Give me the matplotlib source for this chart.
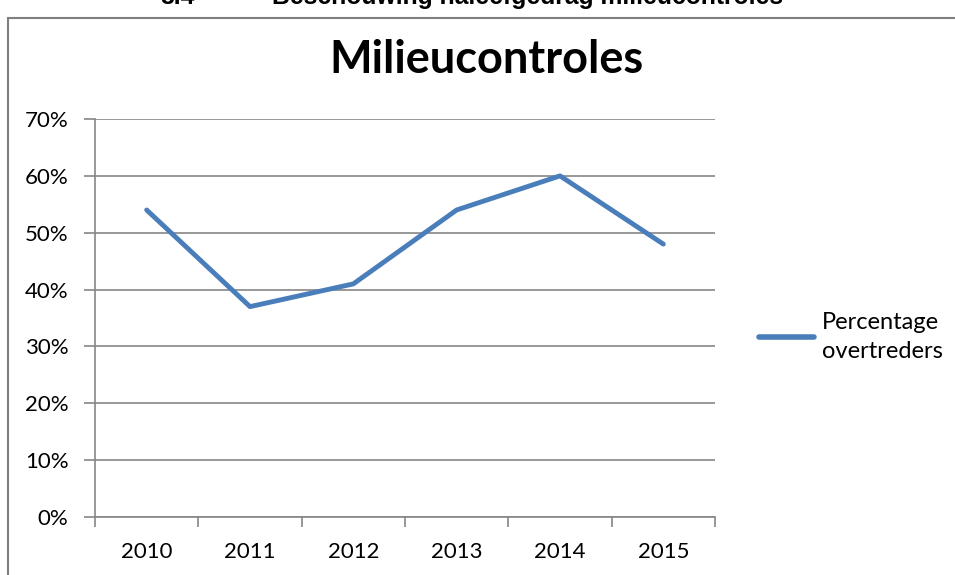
import numpy as np
import matplotlib.pyplot as plt
from matplotlib.patches import Rectangle
from matplotlib.lines import Line2D
from matplotlib.ticker import FixedLocator, PercentFormatter

years = ['2010', '2011', '2012', '2013', '2014', '2015']
overtreders = [54, 37, 41, 54, 60, 48]
series_name = 'Percentage\novertreders'
title = 'Milieucontroles'
header_num = '8.4'
header_text = 'Beschouwing naleefgedrag milieucontroles'

plt.rcParams['font.family'] = ['Lato', 'DejaVu Sans']
grid_col = '#868686'
line_col = '#4A7EBB'

fig = plt.figure(figsize=(9.55, 5.75), dpi=100)
fig.patch.set_facecolor('white')

# outer chart frame (runs off the right and bottom edge)
fig.patches.append(Rectangle((8 / 955, -0.1), 1.2, 0.1 + (575 - 18) / 575,
                             transform=fig.transFigure, fill=False,
                             edgecolor='#7f7f7f', linewidth=1.5))

# heading from the page above, cut off at the top as in the source
fig.text(160 / 955, 0.993, header_num, fontsize=17.8, fontweight='bold',
         va='baseline', ha='left', family=['Liberation Sans'])
fig.text(272 / 955, 0.993, header_text, fontsize=17.8, fontweight='bold',
         va='baseline', ha='left', family=['Liberation Sans'])

ax = fig.add_axes([95 / 955, 58 / 575, 620 / 955, 398 / 575])
x = np.arange(len(years))
ax.plot(x, overtreders, color=line_col, linewidth=3.5, solid_capstyle='round',
        solid_joinstyle='round', label=series_name, zorder=3)

ax.set_xlim(-0.5, len(years) - 0.5)
ax.set_ylim(0, 70)
ax.set_yticks(np.arange(0, 71, 10))
ax.yaxis.set_major_formatter(PercentFormatter(decimals=0))
ax.grid(axis='y', color=grid_col, linewidth=1.2)
ax.set_axisbelow(True)

ax.xaxis.set_major_locator(FixedLocator(np.arange(-0.5, len(years), 1.0)))
ax.xaxis.set_minor_locator(FixedLocator(x))
ax.set_xticklabels([], minor=False)
ax.set_xticklabels(years, minor=True)
ax.tick_params(axis='x', which='major', length=7, color=grid_col, width=1.2, direction='out')
ax.tick_params(axis='x', which='minor', length=0, pad=18, labelsize=16)
ax.tick_params(axis='y', length=8, color=grid_col, width=1.2, labelsize=16, pad=11)

for s in ['top', 'right']:
    ax.spines[s].set_visible(False)
for s in ['left', 'bottom']:
    ax.spines[s].set_color(grid_col)
    ax.spines[s].set_linewidth(1.2)

fig.text(486 / 955, 1 - 60 / 575, title, fontsize=32.5, fontweight='bold',
         ha='center', va='center')

handle = Line2D([], [], color=line_col, linewidth=4, solid_capstyle='round')
leg = fig.legend([handle], [series_name], loc='center left',
                 bbox_to_anchor=(738 / 955, 1 - 337 / 575), frameon=False,
                 fontsize=17, handlelength=2.3, handletextpad=0.35)
for t in leg.get_texts():
    t.set_linespacing(1.5)

fig.savefig('out.png', dpi=100)
